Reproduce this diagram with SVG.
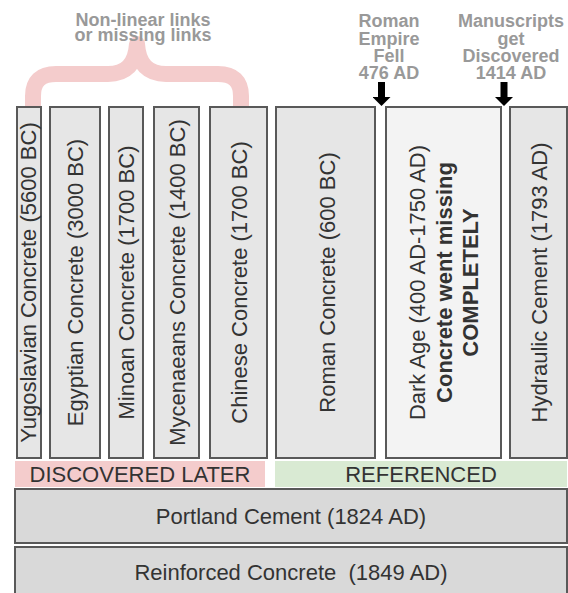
<svg xmlns="http://www.w3.org/2000/svg" width="568" height="593" viewBox="0 0 568 593">
<style>
.box{fill:#e6e6e6;stroke:#595959;stroke-width:2}
.light{fill:#f3f3f3}
.wide{fill:#d9d9d9}
.t{font-family:"Liberation Sans",Arial,sans-serif;font-size:22px;fill:#333333;text-anchor:middle}
.b{font-weight:bold}
.note{font-family:"Liberation Sans",Arial,sans-serif;font-size:18px;font-weight:bold;fill:#999999;text-anchor:middle}
.arrow{stroke:#000000;stroke-width:7;fill:none}
</style>
<defs>
<marker id="head" viewBox="0 -9 9 18" refX="0" refY="0" markerWidth="9" markerHeight="18" markerUnits="userSpaceOnUse" orient="auto">
<path d="M0,-9 L9,0 L0,9 z" fill="#000000"/>
</marker>
</defs>
<rect width="568" height="593" fill="#ffffff"/>
<g id="brace">
<path d="M33,108 L33,96 Q33,74 56,74 L108,74 Q135,74 137,44 Q139,74 166,74 L218,74 Q241,74 241,96 L241,108" fill="none" stroke="#f4cccc" stroke-width="16" stroke-linejoin="round"/>
</g>
<g id="labels-top">
<text class="note" x="143" y="26">Non-linear links</text>
<text class="note" x="143" y="41">or missing links</text>
<text class="note" x="389" y="27">Roman</text>
<text class="note" x="389" y="45">Empire</text>
<text class="note" x="389" y="62">Fell</text>
<text class="note" x="389" y="79">476 AD</text>
<text class="note" x="511" y="27">Manuscripts</text>
<text class="note" x="511" y="45">get</text>
<text class="note" x="511" y="62">Discovered</text>
<text class="note" x="511" y="79">1414 AD</text>
</g>
<g id="connectors">
<line class="arrow" x1="381.5" y1="82" x2="381.5" y2="97" marker-end="url(#head)"/>
<line class="arrow" x1="504" y1="82" x2="504" y2="97" marker-end="url(#head)"/>
</g>
<g id="yugoslavian">
<rect class="box" x="17" y="107" width="24" height="351"/>
<text class="t" transform="translate(36,282.5) rotate(-90)">Yugoslavian Concrete (5600 BC)</text>
</g>
<g id="egyptian">
<rect class="box" x="50" y="107" width="50" height="351"/>
<text class="t" transform="translate(83,282.5) rotate(-90)">Egyptian Concrete (3000 BC)</text>
</g>
<g id="minoan">
<rect class="box" x="109" y="107" width="34" height="351"/>
<text class="t" transform="translate(134,282.5) rotate(-90)">Minoan Concrete (1700 BC)</text>
</g>
<g id="mycenaeans">
<rect class="box" x="154" y="107" width="45" height="351"/>
<text class="t" transform="translate(184.5,282.5) rotate(-90)">Mycenaeans Concrete (1400 BC)</text>
</g>
<g id="chinese">
<rect class="box" x="210" y="107" width="57" height="351"/>
<text class="t" transform="translate(246.5,282.5) rotate(-90)">Chinese Concrete (1700 BC)</text>
</g>
<g id="roman">
<rect class="box" x="276" y="107" width="99" height="351"/>
<text class="t" transform="translate(335,282.5) rotate(-90)">Roman Concrete (600 BC)</text>
</g>
<g id="darkage">
<rect class="box light" x="386" y="107" width="115" height="351"/>
<text class="t" transform="translate(425,282.5) rotate(-90)">Dark Age (400 AD-1750 AD)</text>
<text class="t b" transform="translate(452,282.5) rotate(-90)">Concrete went missing</text>
<text class="t b" transform="translate(478,282.5) rotate(-90)">COMPLETELY</text>
</g>
<g id="hydraulic">
<rect class="box" x="510" y="107" width="57" height="351"/>
<text class="t" transform="translate(547,282.5) rotate(-90)">Hydraulic Cement (1793 AD)</text>
</g>
<g id="discovered-later">
<rect x="15" y="461" width="250" height="26" fill="#f4cccc"/>
<text class="t" x="140" y="482">DISCOVERED LATER</text>
</g>
<g id="referenced">
<rect x="275" y="461" width="292" height="26" fill="#d9ead3"/>
<text class="t" x="421" y="482">REFERENCED</text>
</g>
<g id="portland">
<rect class="box wide" x="15" y="489" width="552" height="54"/>
<text class="t" x="291" y="524">Portland Cement (1824 AD)</text>
</g>
<g id="reinforced">
<rect class="box wide" x="15" y="547" width="552" height="60"/>
<text class="t" x="291" y="580" xml:space="preserve">Reinforced Concrete  (1849 AD)</text>
</g>
</svg>
